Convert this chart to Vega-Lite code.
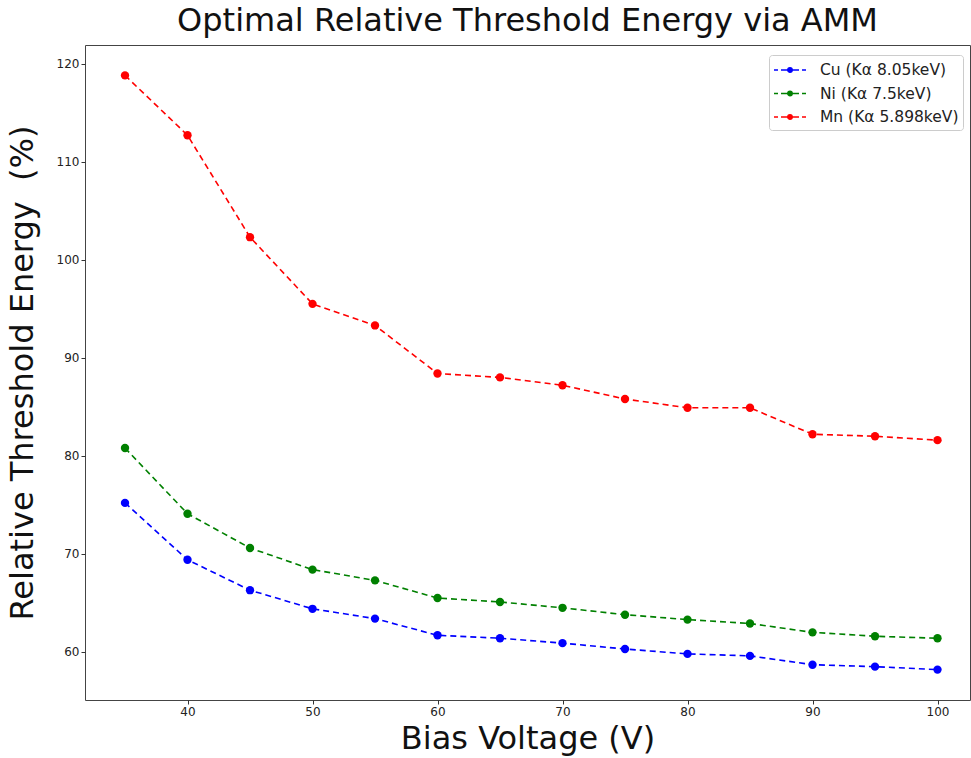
{
  "$schema": "https://vega.github.io/schema/vega-lite/v6.json",
  "autosize": "none",
  "width": 885,
  "height": 655,
  "padding": {"left": 85, "top": 45, "right": 1, "bottom": 58},
  "background": "white",
  "config": {
    "font": "DejaVu Sans",
    "view": {"stroke": "#444", "strokeWidth": 1},
    "axis": {"grid": false, "domain": false, "tickColor": "#333", "tickSize": 4, "labelColor": "#222", "labelFontSize": 12, "titleFontWeight": "normal", "titleColor": "#111", "titleFontSize": 32, "labelFont": "DejaVu Sans", "titleFont": "DejaVu Sans"}
  },
  "title": {"text": "Optimal Relative Threshold Energy via AMM", "fontSize": 32, "fontWeight": "normal", "font": "DejaVu Sans", "color": "#111", "offset": 7},
  "data": {"values": [
    {"v": 35, "e": 75.2, "s": "Cu (Kα 8.05keV)"},
    {"v": 40, "e": 69.4, "s": "Cu (Kα 8.05keV)"},
    {"v": 45, "e": 66.3, "s": "Cu (Kα 8.05keV)"},
    {"v": 50, "e": 64.4, "s": "Cu (Kα 8.05keV)"},
    {"v": 55, "e": 63.4, "s": "Cu (Kα 8.05keV)"},
    {"v": 60, "e": 61.7, "s": "Cu (Kα 8.05keV)"},
    {"v": 65, "e": 61.4, "s": "Cu (Kα 8.05keV)"},
    {"v": 70, "e": 60.9, "s": "Cu (Kα 8.05keV)"},
    {"v": 75, "e": 60.3, "s": "Cu (Kα 8.05keV)"},
    {"v": 80, "e": 59.8, "s": "Cu (Kα 8.05keV)"},
    {"v": 85, "e": 59.6, "s": "Cu (Kα 8.05keV)"},
    {"v": 90, "e": 58.7, "s": "Cu (Kα 8.05keV)"},
    {"v": 95, "e": 58.5, "s": "Cu (Kα 8.05keV)"},
    {"v": 100, "e": 58.2, "s": "Cu (Kα 8.05keV)"},
    {"v": 35, "e": 80.8, "s": "Ni (Kα 7.5keV)"},
    {"v": 40, "e": 74.1, "s": "Ni (Kα 7.5keV)"},
    {"v": 45, "e": 70.6, "s": "Ni (Kα 7.5keV)"},
    {"v": 50, "e": 68.4, "s": "Ni (Kα 7.5keV)"},
    {"v": 55, "e": 67.3, "s": "Ni (Kα 7.5keV)"},
    {"v": 60, "e": 65.5, "s": "Ni (Kα 7.5keV)"},
    {"v": 65, "e": 65.1, "s": "Ni (Kα 7.5keV)"},
    {"v": 70, "e": 64.5, "s": "Ni (Kα 7.5keV)"},
    {"v": 75, "e": 63.8, "s": "Ni (Kα 7.5keV)"},
    {"v": 80, "e": 63.3, "s": "Ni (Kα 7.5keV)"},
    {"v": 85, "e": 62.9, "s": "Ni (Kα 7.5keV)"},
    {"v": 90, "e": 62.0, "s": "Ni (Kα 7.5keV)"},
    {"v": 95, "e": 61.6, "s": "Ni (Kα 7.5keV)"},
    {"v": 100, "e": 61.4, "s": "Ni (Kα 7.5keV)"},
    {"v": 35, "e": 118.8, "s": "Mn (Kα 5.898keV)"},
    {"v": 40, "e": 112.7, "s": "Mn (Kα 5.898keV)"},
    {"v": 45, "e": 102.3, "s": "Mn (Kα 5.898keV)"},
    {"v": 50, "e": 95.5, "s": "Mn (Kα 5.898keV)"},
    {"v": 55, "e": 93.3, "s": "Mn (Kα 5.898keV)"},
    {"v": 60, "e": 88.4, "s": "Mn (Kα 5.898keV)"},
    {"v": 65, "e": 88.0, "s": "Mn (Kα 5.898keV)"},
    {"v": 70, "e": 87.2, "s": "Mn (Kα 5.898keV)"},
    {"v": 75, "e": 85.8, "s": "Mn (Kα 5.898keV)"},
    {"v": 80, "e": 84.9, "s": "Mn (Kα 5.898keV)"},
    {"v": 85, "e": 84.9, "s": "Mn (Kα 5.898keV)"},
    {"v": 90, "e": 82.2, "s": "Mn (Kα 5.898keV)"},
    {"v": 95, "e": 82.0, "s": "Mn (Kα 5.898keV)"},
    {"v": 100, "e": 81.6, "s": "Mn (Kα 5.898keV)"}
  ]},
  "encoding": {
    "x": {"field": "v", "type": "quantitative", "scale": {"domain": [31.8, 102.6], "nice": false, "zero": false}, "axis": {"values": [40, 50, 60, 70, 80, 90, 100], "title": "Bias Voltage (V)", "titlePadding": 6}},
    "y": {"field": "e", "type": "quantitative", "scale": {"domain": [55.1, 121.9], "nice": false, "zero": false}, "axis": {"values": [60, 70, 80, 90, 100, 110, 120], "title": "Relative Threshold Energy\u00a0 (%)", "titlePadding": 17}},
    "color": {"field": "s", "type": "nominal", "scale": {"domain": ["Cu (Kα 8.05keV)", "Ni (Kα 7.5keV)", "Mn (Kα 5.898keV)"], "range": ["#0000ff", "#008000", "#ff0000"]},
      "legend": {"title": null, "orient": "none", "legendX": 684, "legendY": 10, "labelFontSize": 15.5, "labelFont": "DejaVu Sans", "labelColor": "#222", "symbolType": "M-1,0L-0.6,0M-0.3,0L0.35,0M0.85,0L1.5,0M1.8,0L2.2,0M0.38,0A0.22,0.22 0 1,1 0.82,0A0.22,0.22 0 1,1 0.38,0", "symbolSize": 400, "symbolStrokeWidth": 1.5, "rowPadding": 3.5, "padding": 4, "strokeColor": "#ccc", "fillColor": "white", "cornerRadius": 3, "labelOffset": 25}}
  },
  "layer": [
    {"mark": {"type": "line", "strokeDash": [6, 4], "strokeWidth": 1.6}, "encoding": {"detail": {"field": "s"}}},
    {"mark": {"type": "point", "filled": true, "size": 70, "opacity": 1}}
  ]
}
